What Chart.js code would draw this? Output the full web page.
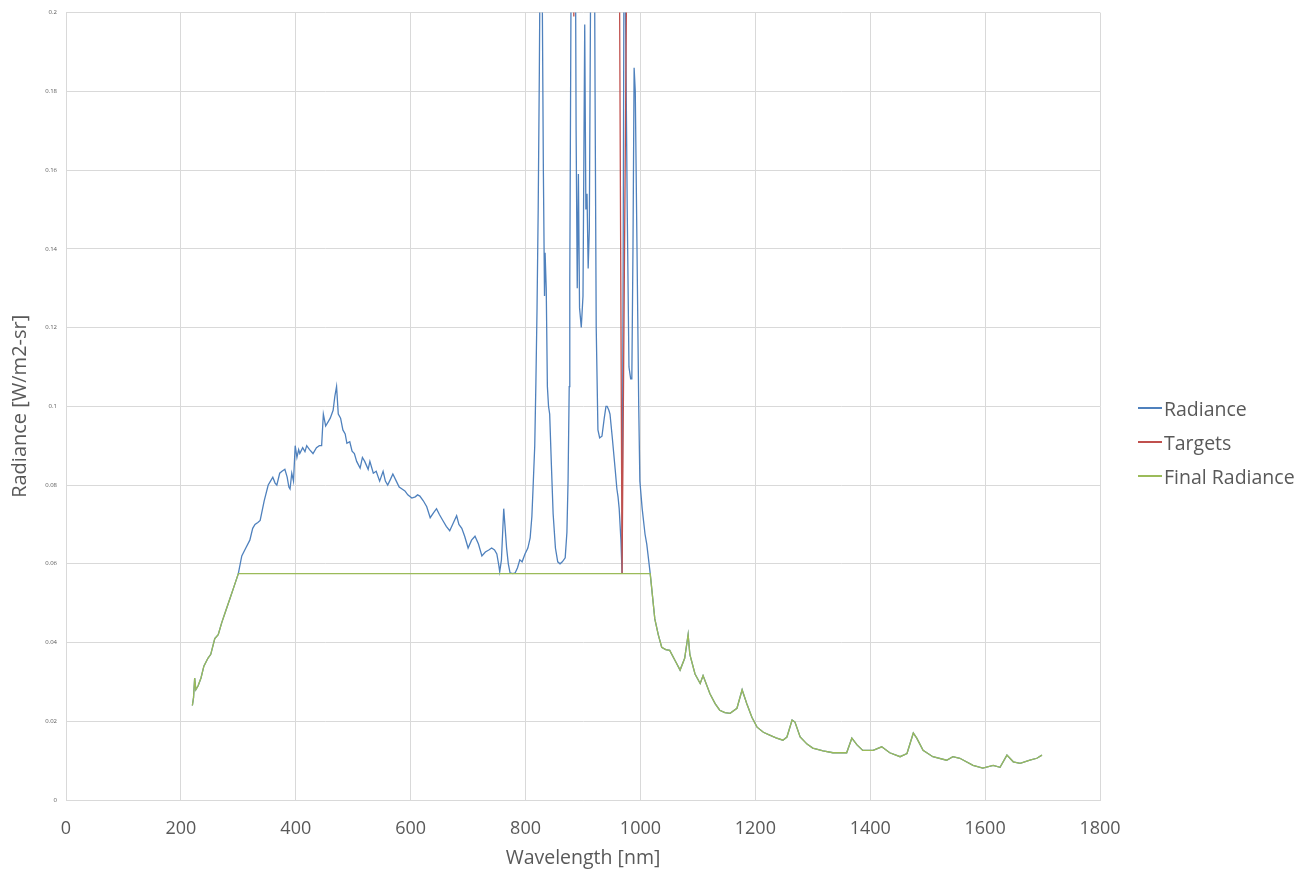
<!DOCTYPE html>
<html>
<head>
<meta charset="utf-8">
<script src="https://cdn.jsdelivr.net/npm/chart.js@4"></script>
<style>
  body { margin: 0; background: #fff; }
  .wrap { position: relative; width: 1297px; height: 871px; }
  .legend { position: absolute; left: 1138px; top: 391px; font: 19.5px "Open Sans", sans-serif; color: #595959; }
  .legend div { height: 34px; display: flex; align-items: center; white-space: nowrap; }
  .legend span.line { display: inline-block; width: 24px; height: 2px; margin-right: 2px; }
</style>
</head>
<body>
<div class="wrap">
  <canvas id="chart" width="1297" height="871"></canvas>
  <div class="legend">
    <div><span class="line" style="background:#4f81bd"></span>Radiance</div>
    <div><span class="line" style="background:#c0504d"></span>Targets</div>
    <div><span class="line" style="background:#9bbb59"></span>Final Radiance</div>
  </div>
</div>
<script>
// Wavelength (nm) / radiance (W/m2-sr)

// rising edge, shared by Radiance and Final Radiance
const rampWl  = [220, 222, 224, 226, 230, 235, 240, 247, 252, 259, 265, 271, 278, 285, 292, 300];
const rampVal = [0.024, 0.026, 0.031, 0.028, 0.029, 0.031, 0.034, 0.036, 0.037, 0.041, 0.042, 0.045, 0.048, 0.051, 0.054, 0.0575];

// middle part of the measured radiance
const midWl = [302, 306, 313, 320, 325, 329, 334, 338, 345, 352, 356, 360, 364, 367, 372, 376, 381, 385, 388, 390,
  393, 396, 399, 402, 405, 407, 412, 416, 419, 424, 430, 436, 441, 445, 448, 452, 456, 460, 465, 468,
  471, 474, 478, 482, 486, 489, 494, 498, 502, 506, 512, 516, 520, 526, 529, 535, 540, 546, 552, 556,
  560, 565, 569, 575, 580, 585, 590, 595, 602, 608, 612, 616, 622, 628, 634, 640, 645, 650, 656, 662,
  668, 673, 680, 684, 689, 694, 700, 706, 712, 718, 724, 730, 736, 741, 746, 750, 753, 755, 758, 762,
  764, 767, 770, 773, 778, 782, 786, 790, 794, 799, 804, 808, 811, 813, 816, 818, 820, 822, 824, 826,
  828, 831, 833, 834, 836, 838, 840, 842, 845, 848, 852, 856, 860, 864, 869, 872, 874, 876, 877, 879,
  881, 886, 888, 890, 892, 894, 897, 900, 903, 905, 907, 909, 911, 913, 915, 919, 921, 923, 926, 929,
  933, 937, 940, 942, 945, 947, 951, 956, 959, 961, 963, 966, 968, 970, 972, 974, 975, 977, 980, 983,
  985, 987, 989, 991, 994, 997, 999, 1003, 1008, 1011, 1013];
const midVal = [0.059, 0.062, 0.064, 0.066, 0.069, 0.070, 0.0705, 0.071, 0.076, 0.080, 0.081, 0.082, 0.0805, 0.080, 0.083, 0.0835, 0.084, 0.082, 0.0795, 0.079,
  0.083, 0.081, 0.090, 0.087, 0.089, 0.088, 0.0895, 0.0885, 0.090, 0.089, 0.088, 0.0895, 0.090, 0.090, 0.098, 0.095, 0.096, 0.097, 0.099, 0.1025,
  0.105, 0.098, 0.097, 0.094, 0.093, 0.0906, 0.091, 0.0886, 0.088, 0.086, 0.0843, 0.087, 0.086, 0.084, 0.086, 0.083, 0.0835, 0.081, 0.0835, 0.081,
  0.080, 0.0815, 0.0828, 0.081, 0.0795, 0.079, 0.0785, 0.0775, 0.0767, 0.077, 0.0775, 0.0772, 0.076, 0.0745, 0.0717, 0.073, 0.074, 0.0725, 0.071, 0.0695,
  0.0684, 0.070, 0.0722, 0.070, 0.069, 0.067, 0.064, 0.066, 0.067, 0.065, 0.062, 0.063, 0.0635, 0.064, 0.0635, 0.0625, 0.060, 0.058, 0.061, 0.074,
  0.070, 0.064, 0.060, 0.0577, 0.0575, 0.0577, 0.059, 0.061, 0.0605, 0.0625, 0.064, 0.0666, 0.072, 0.079, 0.090, 0.106, 0.125, 0.150, 0.185, 0.23,
  0.23, 0.16, 0.128, 0.139, 0.130, 0.105, 0.100, 0.098, 0.085, 0.0727, 0.064, 0.0605, 0.060, 0.0605, 0.0615, 0.068, 0.081, 0.105, 0.132, 0.20,
  0.25, 0.25, 0.17, 0.13, 0.159, 0.125, 0.12, 0.128, 0.197, 0.15, 0.154, 0.135, 0.145, 0.20, 0.25, 0.25, 0.18, 0.12, 0.094, 0.092,
  0.0924, 0.097, 0.100, 0.100, 0.099, 0.098, 0.092, 0.084, 0.079, 0.077, 0.074, 0.066, 0.0575, 0.14, 0.25, 0.20, 0.184, 0.15, 0.11, 0.107,
  0.107, 0.14, 0.186, 0.18, 0.14, 0.10, 0.081, 0.074, 0.0675, 0.065, 0.0625];

// falling tail, shared by Radiance and Final Radiance
const tailWl = [1017, 1025, 1031, 1037, 1044, 1051, 1060, 1069, 1077, 1083, 1086, 1095, 1104, 1109, 1121, 1130, 1138, 1147, 1156, 1168,
  1177, 1185, 1194, 1203, 1214, 1225, 1236, 1248, 1255, 1264, 1269, 1278, 1290, 1300, 1318, 1335, 1359, 1368, 1377, 1387,
  1405, 1420, 1434, 1452, 1464, 1475, 1481, 1492, 1509, 1533, 1544, 1556, 1579, 1596, 1614, 1626, 1638, 1649, 1661, 1678,
  1690, 1699];
const tailVal = [0.0575, 0.046, 0.042, 0.0388, 0.0382, 0.038, 0.0355, 0.033, 0.036, 0.042, 0.037, 0.032, 0.0296, 0.0316, 0.027, 0.0245, 0.0228, 0.0222, 0.022, 0.0233,
  0.028, 0.0245, 0.021, 0.0185, 0.0172, 0.0165, 0.0158, 0.0152, 0.016, 0.0203, 0.0198, 0.016, 0.0142, 0.0132, 0.0125, 0.012, 0.012, 0.0157, 0.014, 0.0126,
  0.0126, 0.0135, 0.012, 0.011, 0.0118, 0.017, 0.0157, 0.0126, 0.011, 0.0101, 0.011, 0.0106, 0.0088, 0.0081, 0.0088, 0.0083, 0.0114, 0.0097, 0.0093, 0.0101,
  0.0106, 0.0114];

// flat level of the final radiance between the edges
const flatWl  = [300, 1017];
const flatVal = [0.0575, 0.0575];

// targets
const targetWl  = [882, 884, 886, 963.5, 968, 976];
const targetVal = [0.24, 0.199, 0.24, 0.21, 0.0575, 0.21];

// axis ticks
const xTicks = [0, 200, 400, 600, 800, 1000, 1200, 1400, 1600, 1800];
const yTicks = [0, 0.02, 0.04, 0.06, 0.08, 0.1, 0.12, 0.14, 0.16, 0.18, 0.2];

const pts = (xs, ys) => xs.map((x, i) => ({ x: x, y: ys[i] }));

const radiance = pts(rampWl.concat(midWl, tailWl), rampVal.concat(midVal, tailVal));
const targets = pts(targetWl, targetVal);
const finalRad = pts(rampWl.concat(flatWl, tailWl), rampVal.concat(flatVal, tailVal));

const grey = '#595959';
const gridColor = '#d9d9d9';

new Chart(document.getElementById('chart'), {
  type: 'scatter',
  data: {
    datasets: [
      // higher order is drawn first, so Final Radiance ends up on top like in Excel
      { label: 'Radiance', data: radiance, borderColor: '#4f81bd', borderWidth: 1.3, order: 3 },
      { label: 'Targets', data: targets, borderColor: '#c0504d', borderWidth: 1.3, order: 2 },
      { label: 'Final Radiance', data: finalRad, borderColor: '#9bbb59', borderWidth: 1.3, order: 1 }
    ]
  },
  options: {
    responsive: false,
    animation: false,
    showLine: true,
    elements: { point: { radius: 0 }, line: { tension: 0 } },
    layout: { padding: { top: 10, right: 197, left: 0, bottom: 0 } },
    plugins: { legend: { display: false }, tooltip: { enabled: false } },
    scales: {
      x: {
        min: 0, max: 1800,
        afterBuildTicks: (s) => { s.ticks = xTicks.map(v => ({ value: v })); },
        afterFit: (s) => { s.height = 71; },
        grid: { color: gridColor, drawTicks: false },
        border: { color: gridColor },
        ticks: { color: grey, padding: 18, font: { family: 'Open Sans', size: 18 },
                 callback: (v) => String(v) },
        title: { display: true, text: 'Wavelength [nm]', color: grey, padding: { top: 0, bottom: 1 }, font: { family: 'Open Sans', size: 19.5 } }
      },
      y: {
        min: 0, max: 0.2,
        afterBuildTicks: (s) => { s.ticks = yTicks.map(v => ({ value: v })); },
        afterFit: (s) => { s.width = 66; },
        grid: { color: gridColor, drawTicks: false },
        border: { color: gridColor },
        ticks: { color: grey, padding: 9, font: { family: 'Open Sans', size: 6 },
                 callback: (v) => String(Math.round(v * 100) / 100) },
        title: { display: true, text: 'Radiance [W/m2-sr]', color: grey, padding: { top: 8, bottom: 0 }, font: { family: 'Open Sans', size: 20 } }
      }
    }
  }
});
</script>
</body>
</html>
